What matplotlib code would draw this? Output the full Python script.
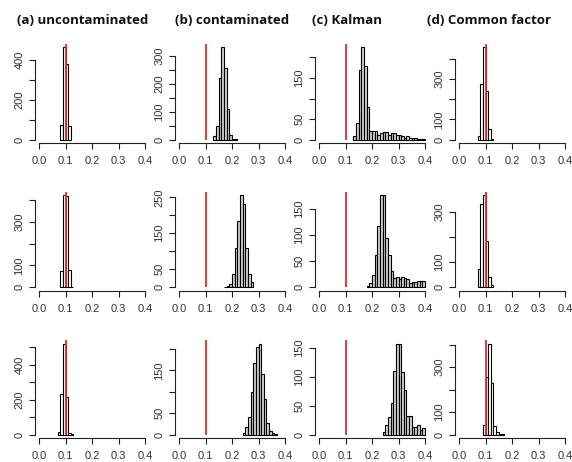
import numpy as np
import matplotlib
matplotlib.use("Agg")
import matplotlib.pyplot as plt

# ---------------- data ----------------
titles = ["(a) uncontaminated", "(b) contaminated", "(c) Kalman", "(d) Common factor"]
x_ticks = [0.0, 0.1, 0.2, 0.3, 0.4]
x_ticklabels = ["0.0", "0.1", "0.2", "0.3", "0.4"]
true_value = 0.1
bin_width = 0.01

# first bin edge and counts for each panel (row, column)
r1a_start, r1a_counts = 0.08, [75, 464, 381, 70]
r1b_start, r1b_counts = 0.13, [12, 50, 220, 330, 255, 110, 18, 3, 1]
r1c_start, r1c_counts = 0.13, [8, 40, 170, 225, 180, 80, 20, 22, 22, 12, 15, 18, 18, 12,
                               15, 15, 10, 10, 8, 5, 8, 5, 3, 3, 2, 1, 1]
r1d_start, r1d_counts = 0.07, [17, 276, 458, 239, 51, 2]

r2a_start, r2a_counts = 0.08, [76, 423, 420, 80, 2]
r2b_start, r2b_counts = 0.17, [1, 2, 8, 35, 110, 185, 255, 232, 110, 36, 14]
r2c_start, r2c_counts = 0.18, [2, 8, 23, 62, 117, 176, 176, 95, 61, 30, 18, 20, 15, 20,
                               18, 15, 8, 9, 10, 12, 12, 12]
r2d_start, r2d_counts = 0.07, [73, 332, 365, 184, 40, 8]

r3a_start, r3a_counts = 0.07, [13, 234, 520, 215, 10, 3]
r3b_start, r3b_counts = 0.24, [5, 17, 42, 100, 167, 204, 212, 142, 84, 28, 9, 3, 1]
r3c_start, r3c_counts = 0.24, [4, 17, 30, 55, 111, 158, 158, 108, 78, 32, 33, 14, 14, 16, 8, 12]
r3d_start, r3d_counts = 0.09, [41, 256, 405, 232, 39, 10, 2, 2]

# y tick step and the tick labels that are shown
r1_ystep = [100, 50, 50, 100]
r1_ylabels = [[0, 200, 400], [0, 100, 200, 300], [0, 50, 150], [0, 100, 300]]
r2_ystep = [100, 50, 50, 100]
r2_ylabels = [[0, 100, 300], [0, 50, 150, 250], [0, 50, 100, 150], [0, 100, 300]]
r3_ystep = [100, 50, 50, 100]
r3_ylabels = [[0, 200, 400], [0, 50, 150], [0, 50, 100, 150], [0, 100, 300]]

panels = [
    [(r1a_start, r1a_counts), (r1b_start, r1b_counts), (r1c_start, r1c_counts), (r1d_start, r1d_counts)],
    [(r2a_start, r2a_counts), (r2b_start, r2b_counts), (r2c_start, r2c_counts), (r2d_start, r2d_counts)],
    [(r3a_start, r3a_counts), (r3b_start, r3b_counts), (r3c_start, r3c_counts), (r3d_start, r3d_counts)],
]
ysteps = [r1_ystep, r2_ystep, r3_ystep]
ylabels = [r1_ylabels, r2_ylabels, r3_ylabels]
fill_colors = ["white", "#cfcfcf", "#cfcfcf", "white"]

# ---------------- layout (pixels) ----------------
W, H = 572, 462
fig = plt.figure(figsize=(W / 100, H / 100), dpi=100)
fig.patch.set_facecolor("white")

col_zero_px = [39, 179, 319, 459]
px_per_unit = 265.0
row_top_px = [43.5, 191.8, 340.0]
row_bottom_px = [143.3, 290.7, 438.3]
title_x_px = [17, 175, 312, 427]
title_y_px = 20

xlo, xhi = -0.016, 0.416
tick_font = dict(family="Liberation Sans", size=8, color="#333333")
axis_col = "#222222"

for r in range(3):
    for c in range(4):
        start, counts = panels[r][c]
        counts = np.asarray(counts, dtype=float)
        edges = start + bin_width * np.arange(len(counts) + 1)
        left = col_zero_px[c] + xlo * px_per_unit
        width = (xhi - xlo) * px_per_unit
        top = row_top_px[r]
        bottom = row_bottom_px[r]
        ax = fig.add_axes([left / W, 1 - bottom / H, width / W, (bottom - top) / H])
        ymax = counts.max()
        ax.set_xlim(xlo, xhi)
        ax.set_ylim(-0.04 * ymax, 1.04 * ymax)
        ax.bar(edges[:-1], counts, width=bin_width, align="edge",
               facecolor=fill_colors[c], edgecolor="black", linewidth=0.8, zorder=2)
        ax.vlines(true_value, 0, 1.04 * ymax, color="#e42a2a", linewidth=1.3, zorder=3)

        for s in ["top", "right"]:
            ax.spines[s].set_visible(False)
        for s in ["left", "bottom"]:
            ax.spines[s].set_color(axis_col)
            ax.spines[s].set_linewidth(0.8)
        ax.spines["bottom"].set_bounds(0, 0.4)
        step = ysteps[r][c]
        yt = np.arange(0, 1.04 * ymax + 1e-9, step)
        ax.spines["left"].set_bounds(0, yt[-1])
        ax.set_xticks(x_ticks)
        ax.set_xticklabels(x_ticklabels, **tick_font)
        ax.set_yticks(yt)
        shown = ylabels[r][c]
        ax.set_yticklabels([str(int(v)) if int(v) in shown else "" for v in yt],
                           rotation=90, va="center", **tick_font)
        ax.tick_params(axis="both", direction="out", length=4.5, width=0.8, color=axis_col)
        ax.tick_params(axis="x", pad=5)
        ax.tick_params(axis="y", pad=3)
        ax.patch.set_alpha(0)

for c in range(4):
    fig.text(title_x_px[c] / W, 1 - title_y_px / H, titles[c], ha="left", va="center",
             family="Open Sans", weight="bold", size=9.5, color="#111111")

fig.savefig("out.png", dpi=100)
